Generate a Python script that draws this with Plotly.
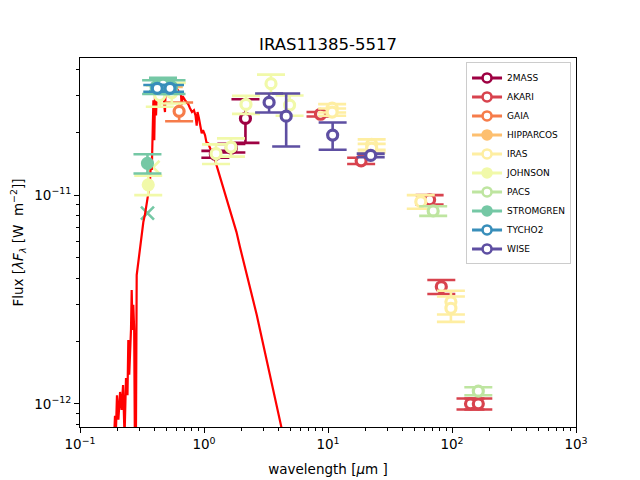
import plotly.graph_objects as go

# Model SED (wavelength in micron, lambda*F_lambda in W m-2)
model_wave = [0.1846, 0.1915, 0.195, 0.1987, 0.204, 0.2105, 0.2163, 0.2225, 0.2287, 0.235,
              0.2415, 0.2453, 0.2495, 0.2532, 0.2577, 0.2612, 0.265, 0.269, 0.2735, 0.2778,
              0.2818, 0.2866, 0.2952, 0.3048, 0.3145, 0.3242, 0.3345, 0.3451, 0.3566, 0.3672,
              0.3741, 0.3793, 0.3846, 0.3908, 0.3972, 0.4027, 0.4104, 0.418, 0.428, 0.4418,
              0.4581, 0.4695, 0.4775, 0.4845, 0.492, 0.5153, 0.5321, 0.5521, 0.5729, 0.6026,
              0.6287, 0.6528, 0.6607, 0.6714, 0.7031, 0.7471, 0.7711, 0.8, 0.8299, 0.8536,
              0.873, 0.887, 0.9112, 0.9288, 0.9582, 0.9816, 1.019, 1.047, 1.083, 1.118,
              1.161, 1.227, 1.297, 1.397, 1.504, 1.62, 1.723, 1.828, 1.95, 2.074,
              2.208, 2.348, 2.498, 2.661, 2.831, 3.008, 3.203, 3.404, 3.622, 3.855,
              4.101, 4.255]
model_flux = [5.0e-13, 8.77e-13, 7.5e-13, 1.10e-12, 8.4e-13, 1.14e-12, 9.35e-13, 1.23e-12, 7.0e-13, 1.33e-12,
              1.10e-12, 2.02e-12, 1.38e-12, 1.63e-12, 2.26e-12, 3.51e-12, 2.26e-12, 2.98e-12, 2.26e-12, 5.0e-13,
              5.0e-13, 4.14e-12, 4.78e-12, 5.77e-12, 6.37e-12, 7.43e-12, 8.11e-12, 8.96e-12, 1.03e-11, 1.18e-11,
              1.47e-11, 1.32e-11, 2.05e-11, 2.85e-11, 1.83e-11, 3.01e-11, 2.41e-11, 3.25e-11, 2.85e-11, 3.44e-11,
              3.55e-11, 3.63e-11, 2.70e-11, 2.50e-11, 3.48e-11, 3.55e-11, 3.40e-11, 3.33e-11, 3.29e-11, 3.25e-11,
              3.11e-11, 3.01e-11, 2.70e-11, 2.98e-11, 2.85e-11, 2.72e-11, 2.61e-11, 2.50e-11, 2.55e-11, 2.41e-11,
              2.15e-11, 2.50e-11, 2.33e-11, 2.16e-11, 1.98e-11, 2.05e-11, 1.94e-11, 1.79e-11, 1.77e-11, 1.68e-11,
              1.61e-11, 1.47e-11, 1.32e-11, 1.12e-11, 9.68e-12, 8.48e-12, 7.59e-12, 6.65e-12, 5.64e-12, 4.89e-12,
              4.23e-12, 3.63e-12, 3.15e-12, 2.67e-12, 2.26e-12, 1.91e-12, 1.63e-12, 1.38e-12, 1.17e-12, 9.89e-13,
              8.38e-13, 7.5e-13]

# Photometry per system: wavelength [um], flux [W m-2], error, flag (0 fitted, 1 excluded, 2 rejected)
twomass_wave = [1.235, 1.662, 2.159]
twomass_flux = [1.57e-11, 1.68e-11, 2.33e-11]
twomass_err = [0.06e-11, 0.08e-11, 0.55e-11]
twomass_flag = [0, 0, 0]

akari_wave = [8.7, 18.5, 66, 82, 141, 163]
akari_flux = [2.44e-11, 1.46e-11, 9.5e-12, 3.64e-12, 1.0e-12, 1.0e-12]
akari_err = [0.06e-11, 0.05e-11, 0.5e-12, 0.28e-12, 0.06e-12, 0.06e-12]
akari_flag = [0, 0, 0, 0, 0, 0]

gaia_wave = [0.63]
gaia_flux = [2.52e-11]
gaia_err = [0.26e-11]
gaia_flag = [0]

hipparcos_wave = [0.52]
hipparcos_flux = [3.2e-11]
hipparcos_err = [0.1e-11]
hipparcos_flag = [1]

iras_wave = [10.8, 10.8, 22.5, 22.5, 56, 98, 98]
iras_flux = [2.61e-11, 2.50e-11, 1.75e-11, 1.68e-11, 9.3e-12, 3.08e-12, 2.87e-12]
iras_err = [0.12e-11, 0.10e-11, 0.10e-11, 0.08e-11, 0.7e-12, 0.4e-12, 0.4e-12]
iras_flag = [0, 0, 0, 0, 0, 0, 0]

johnson_wave = [0.355, 0.388, 0.44, 0.55, 1.25, 1.65, 2.18, 3.47, 4.9]
johnson_flux = [1.12e-11, 1.36e-11, 3.0e-11, 3.1e-11, 1.58e-11, 1.70e-11, 2.72e-11, 3.42e-11, 2.70e-11]
johnson_err = [0.12e-11, 0.0, 0.35e-11, 0.35e-11, 0.17e-11, 0.17e-11, 0.27e-11, 0.36e-11, 0.30e-11]
johnson_flag = [1, 2, 0, 0, 0, 0, 0, 0, 0]

pacs_wave = [70.5, 163]
pacs_flux = [8.4e-12, 1.15e-12]
pacs_err = [0.45e-12, 0.05e-12]
pacs_flag = [0, 0]

stromgren_wave = [0.35, 0.35, 0.411, 0.467, 0.547]
stromgren_flux = [1.42e-11, 8.2e-12, 3.3e-11, 3.4e-11, 3.3e-11]
stromgren_err = [0.15e-11, 0.0, 0.25e-11, 0.25e-11, 0.25e-11]
stromgren_flag = [1, 2, 0, 0, 0]

tycho2_wave = [0.42, 0.532]
tycho2_flux = [3.25e-11, 3.25e-11]
tycho2_err = [0.12e-11, 0.12e-11]
tycho2_flag = [0, 0]

wise_wave = [3.35, 4.6, 10.9, 22.1]
wise_flux = [2.78e-11, 2.39e-11, 1.94e-11, 1.55e-11]
wise_err = [0.29e-11, 0.68e-11, 0.29e-11, 0.03e-11]
wise_flag = [0, 0, 0, 0]

systems = ["2MASS", "AKARI", "GAIA", "HIPPARCOS", "IRAS", "JOHNSON", "PACS", "STROMGREN", "TYCHO2", "WISE"]
photometry = [
    (twomass_wave, twomass_flux, twomass_err, twomass_flag),
    (akari_wave, akari_flux, akari_err, akari_flag),
    (gaia_wave, gaia_flux, gaia_err, gaia_flag),
    (hipparcos_wave, hipparcos_flux, hipparcos_err, hipparcos_flag),
    (iras_wave, iras_flux, iras_err, iras_flag),
    (johnson_wave, johnson_flux, johnson_err, johnson_flag),
    (pacs_wave, pacs_flux, pacs_err, pacs_flag),
    (stromgren_wave, stromgren_flux, stromgren_err, stromgren_flag),
    (tycho2_wave, tycho2_flux, tycho2_err, tycho2_flag),
    (wise_wave, wise_flux, wise_err, wise_flag),
]

# Spectral colormap sampled at 10 points
colors = ["#9e0142", "#d8434e", "#f67c4a", "#fdbf6f", "#feeea2",
          "#f1f9a9", "#bee5a0", "#75c8a5", "#388eba", "#5e4fa2"]

fig = go.Figure()

# rejected points (crosses) sit under the model line
for name, col, (wave, flux, err, flag) in zip(systems, colors, photometry):
    xs = [w for w, f in zip(wave, flag) if f == 2]
    ys = [v for v, f in zip(flux, flag) if f == 2]
    if xs:
        fig.add_trace(go.Scatter(
            x=xs, y=ys, mode="markers", showlegend=False,
            marker=dict(symbol="x-thin", size=13, line=dict(color=col, width=2.6)),
            hovertemplate=name + "<br>%{x} um<br>%{y:.3g}<extra></extra>",
        ))

fig.add_trace(go.Scatter(
    x=model_wave, y=model_flux, mode="lines",
    line=dict(color="red", width=2.2),
    showlegend=False, hoverinfo="skip",
))

for name, col, (wave, flux, err, flag) in zip(systems, colors, photometry):
    keep = [i for i, f in enumerate(flag) if f != 2]
    fig.add_trace(go.Scatter(
        x=[wave[i] for i in keep], y=[flux[i] for i in keep], mode="markers", name=name,
        marker=dict(symbol="circle", color=[col if flag[i] == 1 else "white" for i in keep],
                    size=10, line=dict(color=col, width=3.2)),
        error_y=dict(type="data", array=[err[i] for i in keep], visible=True,
                     color=col, thickness=2.6, width=14),
        showlegend=False,
        hovertemplate=name + "<br>%{x} um<br>%{y:.3g}<extra></extra>",
    ))
    # legend entry drawn like an errorbar handle
    fig.add_trace(go.Scatter(
        x=[None], y=[None], mode="lines+markers", name=name,
        line=dict(color=col, width=3),
        marker=dict(symbol="circle", color=col if flag[0] == 1 else "white", size=9,
                    line=dict(color=col, width=2.6)),
    ))

xticks = [0.1, 1, 10, 100, 1000]
xminor = [m * 10 ** e for e in range(-1, 3) for m in range(2, 10)]
yticks = [1e-12, 1e-11]
yminor = [8e-13, 9e-13] + [m * 1e-12 for m in range(2, 10)] + [m * 1e-11 for m in range(2, 5)]

axis_common = dict(
    type="log", showline=True, linecolor="black", linewidth=1, mirror=True,
    showgrid=False, zeroline=False, ticks="outside", ticklen=5, tickcolor="black",
    tickfont=dict(family="DejaVu Sans", size=13.5, color="black"), automargin=False,
)

# the page adds ~8px around the figure, margins compensate for it
fig.update_layout(
    width=640, height=480, autosize=False,
    margin=dict(l=72, r=72, t=50, b=61),
    paper_bgcolor="white", plot_bgcolor="white",
    font=dict(family="DejaVu Sans", color="black"),
    title=dict(text="IRAS11385-5517", x=0.5, xref="paper", xanchor="center",
               y=1 - 36 / 480, yanchor="middle",
               font=dict(family="DejaVu Sans", size=16.5, color="black")),
    xaxis=dict(
        axis_common, range=[-1, 3],
        tickmode="array", tickvals=xticks,
        ticktext=["10<sup>−1</sup>", "10<sup>0</sup>", "10<sup>1</sup>", "10<sup>2</sup>", "10<sup>3</sup>"],
        minor=dict(tickmode="array", tickvals=xminor, ticks="outside", ticklen=3, tickcolor="black"),
        title=dict(text="wavelength [<i>μ</i>m ]", font=dict(size=13.5), standoff=13),
    ),
    yaxis=dict(
        axis_common, range=[-12.111, -10.343],
        tickmode="array", tickvals=yticks,
        ticktext=["10<sup>−12</sup>", "10<sup>−11</sup>"],
        minor=dict(tickmode="array", tickvals=yminor, ticks="outside", ticklen=3, tickcolor="black"),
    ),
    annotations=[dict(
        text="Flux [<i>λF</i><sub><i>λ</i></sub> [W  m<sup>−2</sup>]]",
        xref="paper", yref="paper", x=-62 / 496, y=0.5, xanchor="center", yanchor="middle",
        textangle=-90, showarrow=False, font=dict(family="DejaVu Sans", size=13.5, color="black"),
    )],
    legend=dict(
        x=0.99, y=0.988, xanchor="right", yanchor="top",
        bgcolor="rgba(255,255,255,0.8)", bordercolor="#cccccc", borderwidth=1,
        font=dict(family="DejaVu Sans", size=9, color="black"),
        tracegroupgap=0, itemwidth=30,
    ),
)

fig.write_html("out.html")
